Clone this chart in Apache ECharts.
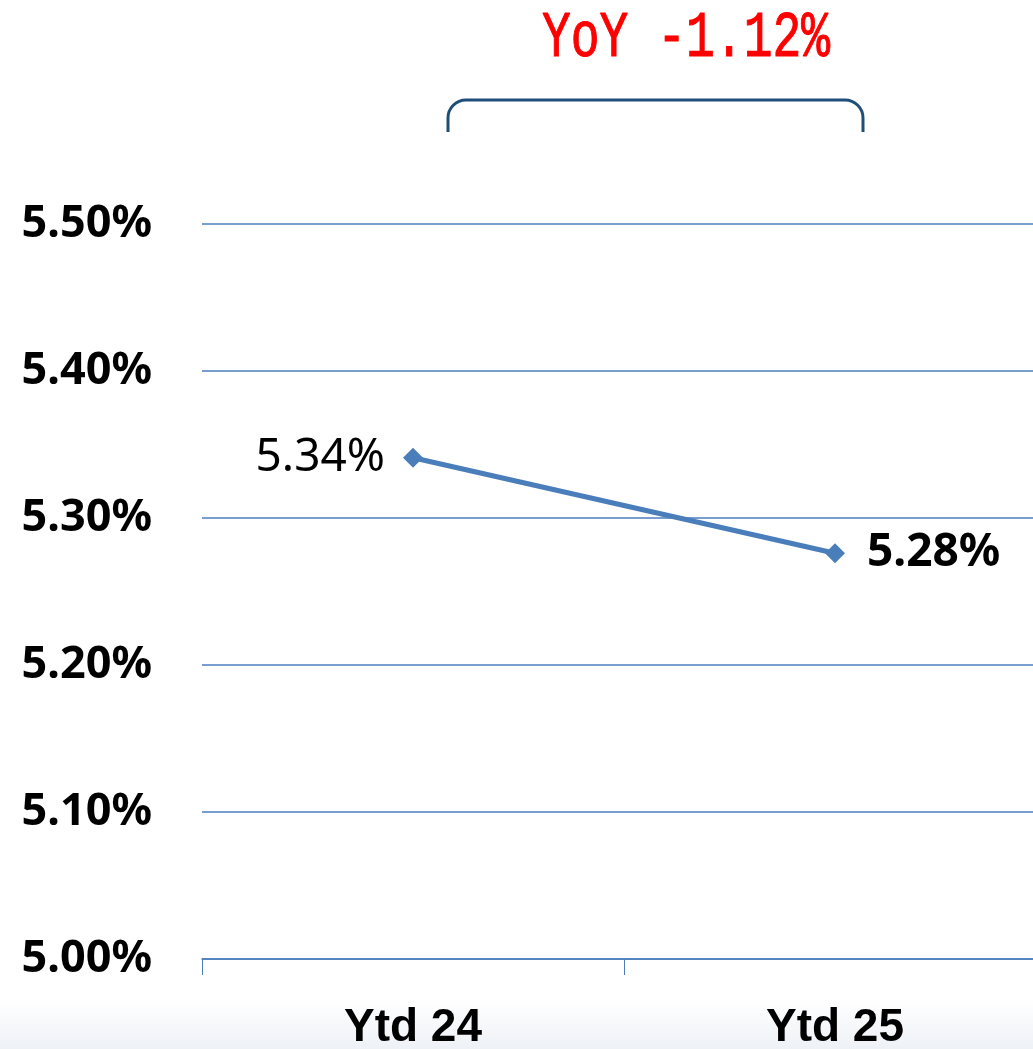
<!DOCTYPE html>
<html>
<head>
<meta charset="utf-8">
<script src="https://cdn.jsdelivr.net/npm/echarts@6/dist/echarts.min.js"></script>
<style>
  html, body { margin: 0; padding: 0; background: #fff; }
  #chart { width: 1033px; height: 1049px; }
</style>
</head>
<body>
<div id="chart"></div>
<script>
// data
var categories = ['Ytd 24', 'Ytd 25'];
var rateValues = [5.341, 5.276];
var yoyText = 'YoY -1.12%';

var blue = '#4a7ebb';
var braceColor = '#1f4e79';
var chart = echarts.init(document.getElementById('chart'));

var braceStyle = { stroke: braceColor, lineWidth: 3, fill: null };

var option = {
    backgroundColor: '#fff',
    animation: false,
    grid: {
        left: 202,
        width: 844,
        top: 224,
        bottom: 90,
        outerBoundsMode: 'none'
    },
    graphic: [
        {
            type: 'rect',
            z: -10,
            shape: { x: 0, y: 1000, width: 1033, height: 49 },
            style: {
                fill: new echarts.graphic.LinearGradient(0, 0, 0, 1, [
                    { offset: 0, color: '#ffffff' },
                    { offset: 1, color: '#eef1f6' }
                ])
            }
        },
        {
            type: 'text',
            x: 542,
            y: 6,
            scaleY: 1.35,
            style: {
                text: yoyText,
                fill: '#ff0000',
                stroke: '#ff0000',
                lineWidth: 0.8,
                font: '48px "Liberation Mono", monospace'
            }
        },
        // bracket over both points
        { type: 'line', shape: { x1: 448, y1: 118, x2: 448, y2: 132 }, style: braceStyle },
        { type: 'arc', shape: { cx: 466, cy: 118, r: 18, startAngle: Math.PI, endAngle: Math.PI * 1.5, clockwise: true }, style: braceStyle },
        { type: 'line', shape: { x1: 466, y1: 100, x2: 845, y2: 100 }, style: braceStyle },
        { type: 'arc', shape: { cx: 845, cy: 118, r: 18, startAngle: Math.PI * 1.5, endAngle: Math.PI * 2, clockwise: true }, style: braceStyle },
        { type: 'line', shape: { x1: 863, y1: 118, x2: 863, y2: 132 }, style: braceStyle }
    ],
    xAxis: {
        type: 'category',
        data: categories,
        boundaryGap: true,
        axisLine: { lineStyle: { color: blue, width: 1.5 } },
        axisTick: { show: true, length: 16, lineStyle: { color: blue } },
        axisLabel: {
            margin: 46,
            color: '#000',
            fontSize: 46,
            fontWeight: 'bold',
            fontFamily: '"Liberation Sans Narrow", "Liberation Sans", sans-serif'
        }
    },
    yAxis: {
        type: 'value',
        min: 5.0,
        max: 5.5,
        interval: 0.1,
        axisLine: { show: false },
        axisTick: { show: false },
        splitLine: { lineStyle: { color: blue, width: 1.5 } },
        axisLabel: {
            margin: 50,
            color: '#000',
            fontSize: 45,
            fontWeight: 'bold',
            fontFamily: '"Noto Sans", sans-serif',
            formatter: function (v) { return v.toFixed(2) + '%'; }
        }
    },
    series: [
        {
            type: 'line',
            data: [
                {
                    value: rateValues[0],
                    label: {
                        show: true,
                        position: 'left',
                        distance: 18,
                        fontSize: 46,
                        fontWeight: 'normal',
                        color: '#000',
                        fontFamily: '"Noto Sans", sans-serif'
                    }
                },
                {
                    value: rateValues[1],
                    label: {
                        show: true,
                        position: 'right',
                        distance: 22,
                        fontSize: 46,
                        fontWeight: 'bold',
                        color: '#000',
                        fontFamily: '"Noto Sans", sans-serif'
                    }
                }
            ],
            symbol: 'diamond',
            symbolSize: 20,
            itemStyle: { color: blue },
            lineStyle: { color: blue, width: 5 },
            label: {
                formatter: function (p) { return p.value.toFixed(2) + '%'; }
            }
        }
    ]
};

chart.setOption(option);
</script>
</body>
</html>
